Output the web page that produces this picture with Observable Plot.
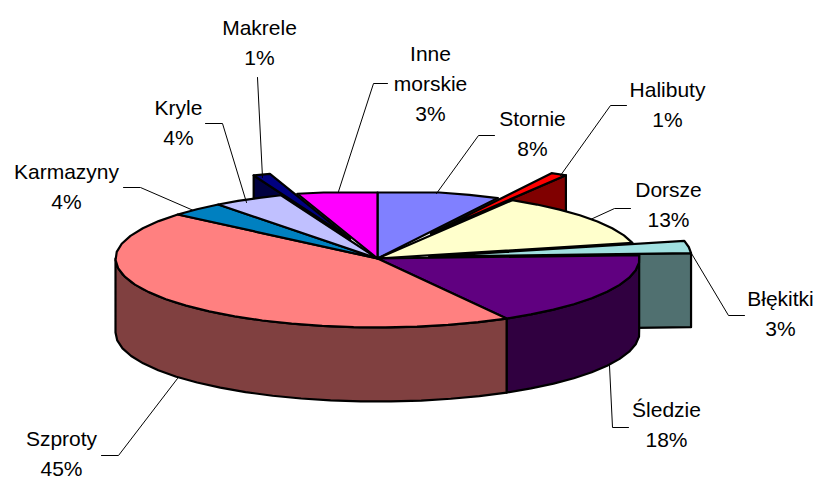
<!DOCTYPE html>
<html>
<head>
<meta charset="utf-8">
<style>html,body{margin:0;padding:0;background:#fff}svg{display:block}</style>
<script src="https://cdn.jsdelivr.net/npm/d3@7"></script>
<script src="https://cdn.jsdelivr.net/npm/@observablehq/plot@0.6"></script>
</head>
<body>
<div id="chart"></div>
<script>
// Data (clockwise from twelve o'clock)
const categories = ["Stornie","Halibuty","Dorsze","Błękitki","Śledzie","Szproty","Karmazyny","Kryle","Makrele","Inne\nmorskie"];
const percentLabels = [8,1,13,3,18,45,4,4,1,3];
// shares as actually drawn (%)
const drawnShares = [7.6,1.0,12.7,2.9,17.6,44.4,3.4,4.4,1.05,4.95];
const explosion = [0,0.42,0,0.2,0,0,0,0,0.31,0];
const topColors = ["#8080FF","#FF0000","#FFFFCC","#A0E0E0","#600080","#FF8080","#0080C0","#C0C0FF","#000080","#FF00FF"];
const wallColors = ["#404080","#800000","#808066","#507070","#300040","#804040","#004060","#606080","#000040","#800080"];

// Layout of the 3-D pie and its annotations
const pie = {cx:377, cy:258, rx:262, ryBack:68, ryFront:69, capBack:66, depth:74};
const labelX = [532,667,668,780,666,61,66,178,259,430];
const labelY = [131,102,202,311,422,451,184,120,40,81];
const leaders = [
  [[494,135],[478,135],[436,193]],
  [[626,105],[610,105],[560,175]],
  [[630,208],[614,208],[590,219]],
  [[691,253],[728,315],[744,315]],
  [[609,365],[612,427],[628,427]],
  [[177,378],[118,455],[101,455]],
  [[123,187],[140,187],[193,210]],
  [[205,123],[222,123],[246,202]],
  [[257,77],[262,177]],
  [[387,83],[373,83],[338,191]]
];

const TAU = Math.PI * 2;
const cum = d3.cumsum(drawnShares);
const total = cum[cum.length - 1];
const slices = categories.map((name, i) => {
  const a0 = (i ? cum[i - 1] : 0) / total * TAU;
  const a1 = cum[i] / total * TAU;
  const mid = (a0 + a1) / 2;
  const R = explosion[i];
  return {i, name, a0, a1,
    dx: R * pie.rx * Math.sin(mid),
    dy: -R * pie.ryBack * Math.cos(mid)};
});
function rim(a, s = {dx:0, dy:0}) {
  const c = Math.cos(a);
  const up = c > 0 ? Math.min(pie.capBack, pie.ryBack * c) : pie.ryFront * c;
  return [pie.cx + pie.rx * Math.sin(a) + s.dx, pie.cy - up + s.dy];
}
function arc(a0, a1, s) {
  const n = Math.max(1, Math.ceil((a1 - a0) / (7 * Math.PI / 180)));
  return d3.range(n + 1).map(k => rim(a0 + (a1 - a0) * k / n, s));
}
const down = p => [p[0], p[1] + pie.depth];
const apex = s => [pie.cx + s.dx, pie.cy + s.dy];
const topFace = s => [apex(s), ...arc(s.a0, s.a1, s)];
// radial cut face of a pulled-out slice, on the side given by angle a
const cutFace = (s, a) => {
  const p = apex(s), q = rim(a, s);
  return [p, q, down(q), down(p)];
};
// outer cylinder wall between two angles
const wall = (a0, a1) => {
  const t = arc(a0, a1);
  return [...t, ...t.map(down).reverse()];
};
const poly = (pts, fill) => Plot.line(pts, {
  x: d => d[0], y: d => d[1], curve: "linear-closed",
  fill, stroke: "#000", strokeWidth: 2.2, strokeLinejoin: "round"
});

const [stornie, halibuty, dorsze, blekitki, sledzie, szproty, karmazyny, kryle, makrele, inne] = slices;

const marks = [
  // pulled-out slices, furthest first
  poly(cutFace(makrele, makrele.a0), wallColors[8]),
  poly(topFace(makrele), topColors[8]),
  poly(cutFace(halibuty, halibuty.a1), wallColors[1]),
  poly(topFace(halibuty), topColors[1]),
  poly(cutFace(blekitki, blekitki.a1), wallColors[3]),
  poly(topFace(blekitki), topColors[3]),
  // walls of the body
  poly(wall(sledzie.a0, sledzie.a1), wallColors[4]),
  poly(wall(szproty.a0, 1.5 * Math.PI), wallColors[5]),
  // top faces of the body
  ...[stornie, dorsze, sledzie, szproty, karmazyny, kryle, inne].map(s => poly(topFace(s), topColors[s.i])),
  // leader lines
  ...leaders.map(pts => Plot.line(pts, {x: d => d[0], y: d => d[1], stroke: "#000", strokeWidth: 1})),
  // labels
  Plot.text(categories, {
    x: (d, i) => labelX[i],
    y: (d, i) => labelY[i],
    text: (d, i) => `${d}\n${percentLabels[i]}%`,
    fontFamily: "Liberation Sans, Arial, sans-serif",
    fontSize: 21,
    lineHeight: 1.43,
    fill: "#000",
    textAnchor: "middle",
    lineAnchor: "middle"
  })
];

document.getElementById("chart").append(Plot.plot({
  width: 817, height: 478,
  margin: 0,
  style: {background: "#fff"},
  x: {domain: [0, 817], range: [0, 817], axis: null},
  y: {domain: [0, 478], range: [0, 478], axis: null},
  marks
}));
</script>
</body>
</html>
